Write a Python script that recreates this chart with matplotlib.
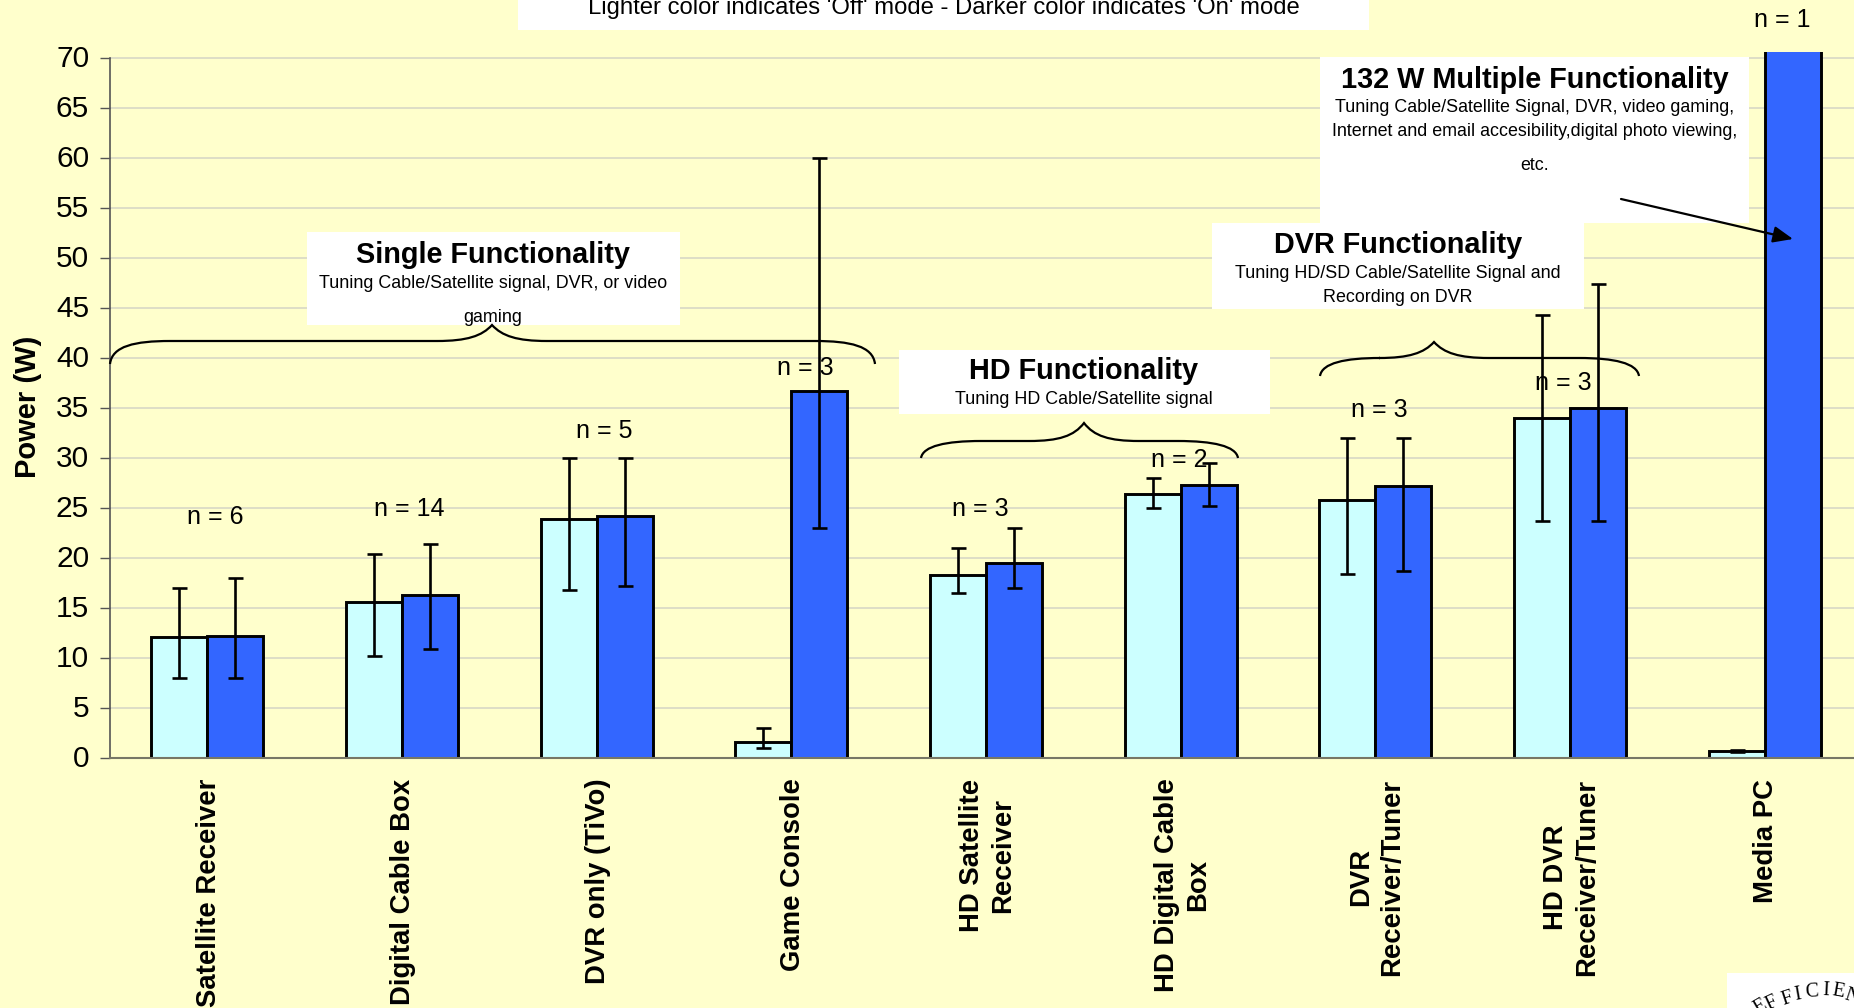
import matplotlib
matplotlib.use('Agg')
import matplotlib.pyplot as plt
from matplotlib.patches import Rectangle, PathPatch
from matplotlib.path import Path
from matplotlib.transforms import ScaledTranslation
import numpy as np

plt.rcParams['font.family'] = ['Liberation Sans', 'DejaVu Sans']

W, H = 1854, 1008

categories = ['Satellite Receiver', 'Digital Cable Box', 'DVR only (TiVo)', 'Game Console',
              'HD Satellite\nReceiver', 'HD Digital Cable\nBox', 'DVR\nReceiver/Tuner',
              'HD DVR\nReceiver/Tuner', 'Media PC']
off_mode = [12.1, 15.6, 23.9, 1.6, 18.3, 26.4, 25.8, 34.0, 0.7]
on_mode = [12.2, 16.3, 24.2, 36.7, 19.5, 27.3, 27.2, 35.0, 132]
off_low = [8.0, 10.2, 16.8, 1.0, 16.5, 25.0, 18.4, 23.7, 0.6]
off_high = [17.0, 20.4, 30.0, 3.0, 21.0, 28.0, 32.0, 44.3, 0.8]
on_low = [8.0, 10.9, 17.2, 23.0, 17.0, 25.2, 18.7, 23.7, 132]
on_high = [18.0, 21.4, 30.0, 60.0, 23.0, 29.5, 32.0, 47.4, 132]
n_labels = ['n = 6', 'n = 14', 'n = 5', 'n = 3', 'n = 3', 'n = 2', 'n = 3', 'n = 3', 'n = 1']
y_ticks = list(range(0, 75, 5))

bg = '#FFFFCC'
light = '#CCFFFF'
dark = '#3366FF'

fig = plt.figure(figsize=(W / 100, H / 100), dpi=100, facecolor=bg)

# main axes runs a little past the right edge, the picture was cropped
left, right, top, bottom = 110, 1862, 52, 757.7
ax = fig.add_axes([left / W, 1 - bottom / H, (right - left) / W, (bottom - top) / H])
ax.set_facecolor(bg)
x = np.arange(len(categories))
w = 0.288

for v in y_ticks[1:]:
    ax.plot([-0.5, 8.5], [v, v], color='#DBDBC6', lw=1.3, zorder=1)

ax.bar(x - w / 2, off_mode, w, color=light, edgecolor='black', linewidth=2.1, zorder=2)
ax.bar(x + w / 2, on_mode, w, color=dark, edgecolor='black', linewidth=2.1, zorder=2)

off_err = [np.array(off_mode) - np.array(off_low), np.array(off_high) - np.array(off_mode)]
ax.errorbar(x[:-1] + w / 2, on_mode[:-1],
            yerr=[np.array(on_mode[:-1]) - np.array(on_low[:-1]), np.array(on_high[:-1]) - np.array(on_mode[:-1])],
            fmt='none', ecolor='black', elinewidth=1.9, capsize=5.4, capthick=1.9, zorder=3)
ax.errorbar(x - w / 2, off_mode, yerr=off_err, fmt='none', ecolor='black',
            elinewidth=1.9, capsize=5.4, capthick=1.9, zorder=3)

ax.set_xlim(-0.5, 8.5)
ax.set_ylim(0, 70 * (bottom - top) / (bottom - 57.7))
ax.set_yticks(y_ticks)
ax.tick_params(axis='y', labelsize=21.5, length=7, width=1, color='#555555', pad=8)
ax.set_xticks(x)
ax.set_xticklabels(categories, rotation=90, fontsize=19.8, fontweight='bold', ha='center', va='top',
                   multialignment='center', linespacing=1.25)
ax.tick_params(axis='x', length=0, pad=15)
# small nudges so the labels sit where they do in the picture
for lab in ax.get_yticklabels():
    lab.set_transform(lab.get_transform() + ScaledTranslation(0, 2 / 100, fig.dpi_scale_trans))
for lab in ax.get_xticklabels():
    lab.set_transform(lab.get_transform() + ScaledTranslation(1.5 / 100, 0, fig.dpi_scale_trans))
for s in ['top', 'right']:
    ax.spines[s].set_visible(False)
ax.spines['left'].set_bounds(0, 70)
ax.spines['left'].set_color('#555555')
ax.spines['left'].set_linewidth(1.2)
ax.spines['bottom'].set_color('#777766')
ax.spines['bottom'].set_linewidth(1.5)

# overlay in picture pixels for the callouts
ov = fig.add_axes([0, 0, 1, 1])
ov.set_xlim(0, W)
ov.set_ylim(H, 0)
ov.axis('off')
ov.patch.set_alpha(0)


def box(x0, y0, x1, y1):
    r = Rectangle((x0, y0), x1 - x0, y1 - y0, facecolor='white', edgecolor='none', zorder=4)
    ov.add_patch(r)
    return r


def brace(x0, x1, xt, yt, ym, ye):
    # curly bracket opening downward
    c = Path.CURVE4
    verts = [(x0, ye), (x0 + 2, ym + 5), (x0 + 25, ym), (x0 + 60, ym),
             (xt - 55, ym), (xt - 25, ym), (xt - 10, ym - 5), (xt, yt),
             (xt + 10, ym - 5), (xt + 25, ym), (xt + 55, ym),
             (x1 - 60, ym), (x1 - 25, ym), (x1 - 2, ym + 5), (x1, ye)]
    codes = [Path.MOVETO, c, c, c, Path.LINETO, c, c, c, c, c, c, Path.LINETO, c, c, c]
    ov.add_patch(PathPatch(Path(verts, codes), fill=False, edgecolor='black', lw=1.6, zorder=5))


brace(110, 875, 492, 325, 341, 364)
brace(921, 1238, 1084, 423, 441, 458)
brace(1320, 1639, 1434, 342, 358, 376)

box(518, 0, 1369, 30)
ov.text(944, 8, "Lighter color indicates 'Off' mode - Darker color indicates 'On' mode",
        fontsize=17.2, ha='center', va='center', zorder=6)

box(1320.5, 57, 1749, 223)
ov.text(1535, 80, '132 W Multiple Functionality', fontsize=20.8, fontweight='bold', ha='center', va='center', zorder=6)
ov.text(1535, 108, 'Tuning Cable/Satellite Signal, DVR, video gaming,', fontsize=12.9, ha='center', va='center', zorder=6)
ov.text(1535, 132, 'Internet and email accesibility,digital photo viewing,', fontsize=12.9, ha='center', va='center', zorder=6)
ov.text(1535, 165, 'etc.', fontsize=12.9, ha='center', va='center', zorder=6)

box(1212, 223, 1584, 309)
ov.text(1398, 245, 'DVR Functionality', fontsize=20.8, fontweight='bold', ha='center', va='center', zorder=6)
ov.text(1398, 274, 'Tuning HD/SD Cable/Satellite Signal and', fontsize=12.9, ha='center', va='center', zorder=6)
ov.text(1398, 298, 'Recording on DVR', fontsize=12.9, ha='center', va='center', zorder=6)

box(899, 350, 1270, 414)
ov.text(1084, 371, 'HD Functionality', fontsize=20.8, fontweight='bold', ha='center', va='center', zorder=6)
ov.text(1084, 399, 'Tuning HD Cable/Satellite signal', fontsize=12.9, ha='center', va='center', zorder=6)

box(307, 232, 680, 325)
ov.text(493, 255, 'Single Functionality', fontsize=20.8, fontweight='bold', ha='center', va='center', zorder=6)
ov.text(493, 283, 'Tuning Cable/Satellite signal, DVR, or video', fontsize=12.9, ha='center', va='center', zorder=6)
t = ov.text(493, 318, 'gaming', fontsize=12.9, ha='center', va='center', zorder=6)
t.set_clip_path(Rectangle((307, 232), 373, 90, transform=ov.transData))

# sample-count labels
n_x = [215, 409, 604, 805, 980, 1179, 1379, 1563, 1782]
n_y = [517, 509, 431, 368, 509, 460, 410, 383, 20]
for lab, nx, ny in zip(n_labels, n_x, n_y):
    ov.text(nx, ny, lab, fontsize=18, ha='center', va='center', zorder=7)

ov.annotate('', xy=(1793, 239), xytext=(1621, 199), zorder=7,
            arrowprops=dict(arrowstyle='-|>,head_length=1.2,head_width=0.5', color='black', lw=1.6,
                            shrinkA=0, shrinkB=0))

ov.text(28, 407, 'Power (W)', rotation=90, fontsize=21, fontweight='bold', ha='center', va='center')

# seal in the bottom corner, mostly cut off
box(1727, 973, W, H)
seal = 'EFFICIEN'
seal_x = [1760, 1772, 1787, 1798, 1812, 1826, 1838, 1852]
seal_y = [1007, 1004, 999, 995, 992, 991, 992, 997]
seal_r = [30, 25, 18, 10, 3, -3, -10, -18]
for ch, sx, sy, sr in zip(seal, seal_x, seal_y, seal_r):
    ov.text(sx, sy, ch, fontsize=14.5, family=['Liberation Serif'], rotation=sr, ha='center', va='center', zorder=6)

fig.savefig('out.png', dpi=100, facecolor=bg)
